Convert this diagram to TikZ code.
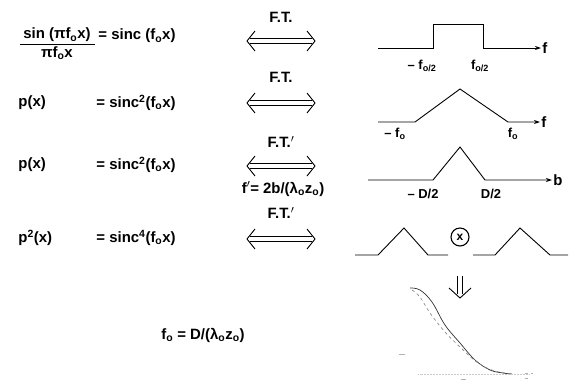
\documentclass[tikz,border=0pt]{standalone}
\usepackage{fontspec}
\setmainfont{Liberation Sans}
\usetikzlibrary{arrows.meta,decorations.markings}
\newcommand{\so}{\textsubscript{o}}

\begin{document}
\begin{tikzpicture}[x=1bp,y=-1bp,>=Stealth,line width=0.9bp,
  every node/.style={font=\bfseries\fontsize{15}{17}\selectfont,inner sep=1pt},
  ftarrow/.style={
    preaction={draw,double,double distance=4.5bp,line width=0.7bp,shorten <=3bp,shorten >=3bp},
    postaction={decorate,decoration={markings,
      mark=at position 0 with {\draw[line width=0.9bp] (8bp,10bp) -- (0,0) -- (8bp,-10bp);},
      mark=at position 1 with {\draw[line width=0.9bp] (-8bp,10bp) -- (0,0) -- (-8bp,-10bp);}}}},
  downarrow/.style={
    preaction={draw,double,double distance=4.5bp,line width=0.7bp,shorten >=4bp},
    postaction={decorate,decoration={markings,
      mark=at position 1 with {\draw[line width=0.9bp] (-10bp,11bp) -- (0,0) -- (-10bp,-11bp);}}}},
  axis/.style={-{Stealth[length=6bp,width=4bp]}},
  lbl/.style={font=\bfseries\fontsize{13}{15}\selectfont}]
\useasboundingbox (0,0) rectangle (573,383);

% left column: equations
\node (num) at (57,35) {sin (πf\so x)};
\node (den) at (57,53) {πf\so x};
\draw[line width=0.9bp] (20,44) -- (95,44);
\node[anchor=west] (eq1) at (97,36) {= sinc (f\so x)};
\node[anchor=west] (px1) at (17,103) {p(x)};
\node[anchor=west] (eq2) at (95,103) {= sinc\textsuperscript{2}(f\so x)};
\node[anchor=west] (px2) at (17,165) {p(x)};
\node[anchor=west] (eq3) at (95,165) {= sinc\textsuperscript{2}(f\so x)};
\node[anchor=west] (px3) at (17,238) {p\textsuperscript{2}(x)};
\node[anchor=west] (eq4) at (95,238) {= sinc\textsuperscript{4}(f\so x)};
\node (fo) at (203,335) {f\so{} = D/(λ\so z\so)};

% middle column: transforms
\node (ft1) at (281,17) {F.T.};
\coordinate (a1l) at (247,41); \coordinate (a1r) at (315,41);
\path[ftarrow] (a1l) -- (a1r);
\node (ft2) at (281,77) {F.T.};
\coordinate (a2l) at (247,103); \coordinate (a2r) at (315,103);
\path[ftarrow] (a2l) -- (a2r);
\node (ft3) at (281,142) {F.T.$'$};
\coordinate (a3l) at (247,166); \coordinate (a3r) at (315,166);
\path[ftarrow] (a3l) -- (a3r);
\node (scale) at (283,189) {f$'$= 2b/(λ\so z\so)};
\node (ft4) at (281,213) {F.T.$'$};
\coordinate (a4l) at (247,239); \coordinate (a4r) at (315,239);
\path[ftarrow] (a4l) -- (a4r);

% right column: spectra
\draw[axis] (378,48) -- (433,48) -- (433,24) -- (483,24) -- (483,48) -- (541,48)
  node[right] (f1) {f};
\node[lbl] (m1) at (422,66) {-- f\textsubscript{o/2}};
\node[lbl] (p1) at (480,66) {f\textsubscript{o/2}};

\draw[axis] (378,122) -- (415,122) -- (460,89) -- (508,122) -- (540,122)
  node[right] (f2) {f};
\node[lbl] (m2) at (395,134) {-- f\so};
\node[lbl] (p2) at (513,134) {f\so};

\draw[axis] (368,180) -- (433,180) -- (460,147) -- (485,180) -- (552,180)
  node[right] (b3) {b};
\node[lbl] (m3) at (423,194) {-- D/2};
\node[lbl] (p3) at (491,194) {D/2};

\draw (355,255) -- (378,255) -- (404,228) -- (428,255) -- (448,255);
\node[draw,circle,line width=1.1bp,minimum size=18bp,inner sep=0pt,font=\bfseries\fontsize{12}{12}\selectfont] (otimes) at (460,237) {x};
\draw (473,255) -- (495,255) -- (520,228) -- (550,255) -- (568,255);

\coordinate (dtop) at (460,276); \coordinate (dbot) at (460,298);
\path[downarrow] (dtop) -- (dbot);

% result curves
\draw[line width=0.7bp,gray!40!black] plot[smooth,tension=0.6] coordinates
  {(410,288) (420,290) (432,302) (445,325) (460,343) (475,360) (490,370) (503,373) (512,374)};
\draw[line width=0.6bp,dashed,gray] plot[smooth,tension=0.6] coordinates
  {(412,290) (420,297) (430,313) (445,332) (460,347) (478,363) (495,371) (513,374)};
\draw[densely dotted,gray!40,line width=0.5bp] (418,374) -- (530,374);
\draw[gray!60,line width=1bp] (399,354) -- (405,354);
\draw[gray!60,line width=1bp] (461,379) -- (466,379);
\draw[gray!60,line width=0.8bp] (525,373) -- (528,373) (531,373) -- (533,373) (525,378) -- (528,378);
\end{tikzpicture}
\end{document}
